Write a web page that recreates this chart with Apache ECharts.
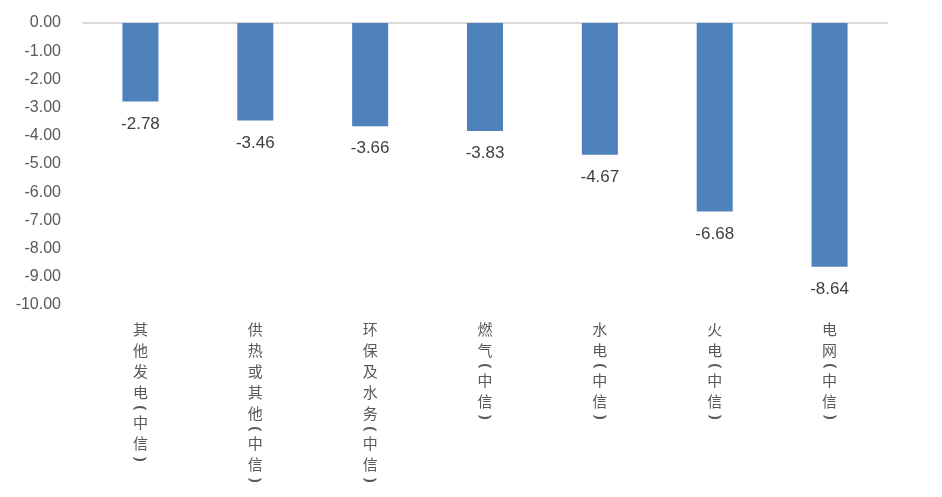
<!DOCTYPE html>
<html><head><meta charset="utf-8">
<script src="https://cdn.jsdelivr.net/npm/echarts@6/dist/echarts.min.js"></script>
<style>html,body{margin:0;padding:0;background:#fff}#c{width:942px;height:497px}</style>
</head><body><div id="c"></div>
<script>
var categories = ['其他发电(中信)', '供热或其他(中信)', '环保及水务(中信)', '燃气(中信)', '水电(中信)', '火电(中信)', '电网(中信)'];
var values = [-2.78, -3.46, -3.66, -3.83, -4.67, -6.68, -8.64];
var yTicks = [0, -1, -2, -3, -4, -5, -6, -7, -8, -9, -10];

function verticalLabel(s) {
  var out = [];
  for (var i = 0; i < s.length; i++) {
    var ch = s[i];
    if (ch === '(') out.push('{po|⌢}');
    else if (ch === ')') out.push('{pc|⌣}');
    else out.push('{c|' + ch + '}');
  }
  return out.join('\n');
}

var chart = echarts.init(document.getElementById('c'));
chart.setOption({
  animation: false,
  grid: { left: 83, right: 55, top: 23, bottom: 192 },
  xAxis: [{
    type: 'category', data: categories, position: 'bottom',
    axisLine: { show: false }, axisTick: { show: false },
    axisLabel: {
      interval: 0, margin: 14,
      formatter: function (v) { return verticalLabel(v); },
      rich: {
        c: { fontFamily: 'Noto Sans CJK SC', fontSize: 15, lineHeight: 21, color: '#595959' },
        po: { fontFamily: 'DejaVu Sans', fontSize: 24, lineHeight: 9, color: '#595959' },
        pc: { fontFamily: 'DejaVu Sans', fontSize: 24, lineHeight: 9, color: '#595959' }
      }
    }
  }, {
    type: 'category', data: categories, position: 'top',
    axisLine: { show: true, onZero: false, lineStyle: { color: '#D9D9D9', width: 2 } },
    axisTick: { show: false }, axisLabel: { show: false }
  }],
  yAxis: {
    type: 'value', min: yTicks[yTicks.length - 1], max: yTicks[0], interval: 1,
    axisLine: { show: false }, axisTick: { show: false }, splitLine: { show: false },
    axisLabel: {
      margin: 22, color: '#595959', fontFamily: 'Liberation Sans', fontSize: 16,
      formatter: function (v) { return v.toFixed(2); }
    }
  },
  series: [{
    type: 'bar', data: values, barWidth: 36, xAxisIndex: 0,
    itemStyle: { color: '#4F81BD' },
    label: {
      show: true, position: 'bottom', distance: 14, color: '#404040',
      fontFamily: 'Liberation Sans', fontSize: 17,
      formatter: function (p) { return p.value.toFixed(2); }
    }
  }]
});
</script></body></html>
